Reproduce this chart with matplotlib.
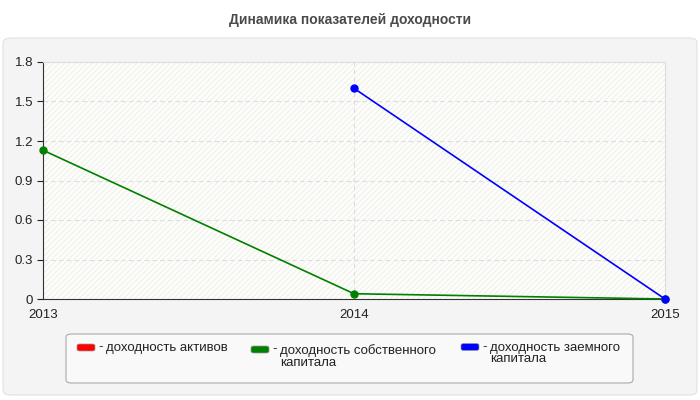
import numpy as np
import matplotlib
matplotlib.use("Agg")
import matplotlib.pyplot as plt
from matplotlib.patches import FancyBboxPatch, Rectangle

plt.rcParams['font.family'] = ['Liberation Sans', 'DejaVu Sans']
plt.rcParams['hatch.linewidth'] = 0.6
plt.rcParams['hatch.color'] = '#ececec'

title = "Динамика показателей доходности"
years = [2013, 2014, 2015]
assets = [np.nan, np.nan, np.nan]          # доходность активов (нет данных)
equity = [1.13, 0.04, 0.0]                 # доходность собственного капитала
borrowed = [np.nan, 1.60, 0.0]             # доходность заемного капитала
y_ticks = [0, 0.3, 0.6, 0.9, 1.2, 1.5, 1.8]
y_labels = ["0", "0.3", "0.6", "0.9", "1.2", "1.5", "1.8"]

series = [
    (["доходность активов"], assets, "#ff0000"),
    (["доходность собственного", "капитала"], equity, "#008000"),
    (["доходность заемного", "капитала"], borrowed, "#0000ff"),
]

W, H = 700, 400
fig = plt.figure(figsize=(7, 4), dpi=100)
fig.patch.set_facecolor("white")

def fx(px):
    return px / W

def fy(py):
    return 1 - py / H

# grey panel behind the chart
panel = FancyBboxPatch((fx(3), fy(395)), fx(694), 357 / H,
                       boxstyle="round,pad=0,rounding_size=0.012",
                       transform=fig.transFigure, facecolor="#f4f4f4",
                       edgecolor="#e2e2e2", lw=0.8, zorder=-2)
fig.patches.append(panel)

fig.text(0.5, fy(20), title, ha="center", va="center", fontsize=10,
         fontweight="bold", color="#4a4a4a")

ax = fig.add_axes([fx(43), fy(299), fx(665 - 43), (299 - 62) / H])
ax.set_zorder(1)
ax.set_facecolor("#fdfdf9")
ax.add_patch(Rectangle((0, 0), 1, 1, transform=ax.transAxes, facecolor="none",
                       hatch="//////", edgecolor="#ececec", lw=0, zorder=0))

for label, vals, color in series:
    ax.plot(years, vals, color=color, lw=1.2, marker="o", markersize=5,
            zorder=3, clip_on=False)

ax.set_xlim(years[0], years[-1])
ax.set_ylim(0, 1.8)
ax.set_yticks(y_ticks)
ax.set_yticklabels(y_labels)
ax.set_xticks(years)
ax.set_xticklabels([str(y) for y in years])
ax.tick_params(axis="both", labelsize=9.5, colors="#222222", length=4, width=0.8)
ax.tick_params(axis="x", length=0, pad=7)
ax.tick_params(axis="y", pad=3)

for y in y_ticks[1:-1]:
    ax.axhline(y, color="#dddddd", lw=0.8, ls=(0, (4, 3)), zorder=1)
ax.axvline(years[1], color="#dddddd", lw=0.8, ls=(0, (4, 3)), zorder=1)

ax.spines["left"].set_color("#333333")
ax.spines["bottom"].set_color("#333333")
ax.spines["top"].set_color("#dddddd")
ax.spines["right"].set_color("#dddddd")

# legend box
leg = FancyBboxPatch((fx(66), fy(383)), fx(633 - 66), 49 / H,
                     boxstyle="round,pad=0,rounding_size=0.008",
                     transform=fig.transFigure, facecolor="#f9f9f9",
                     edgecolor="#aaaaaa", lw=0.8, zorder=-1)
fig.patches.append(leg)

handle_x = [77, 251, 461]
handle_y = [347.5, 349.5, 347]
text_y = [348, 351, 348]
line_gap = 11.5
for (lines, vals, color), hx, hy, ty in zip(series, handle_x, handle_y, text_y):
    h = FancyBboxPatch((fx(hx), fy(hy + 3.5)), fx(18), 7 / H,
                       boxstyle="round,pad=0,rounding_size=0.004",
                       transform=fig.transFigure, facecolor=color,
                       edgecolor="#999999", lw=0.5, zorder=2)
    fig.patches.append(h)
    fig.text(fx(hx + 21), fy(hy), "-", ha="left", va="center",
             fontsize=9.5, color="#222222")
    for i, line in enumerate(lines):
        fig.text(fx(hx + 29), fy(ty + i * line_gap), line, ha="left",
                 va="center", fontsize=9.5, color="#222222")

fig.savefig("out.png", dpi=100)
